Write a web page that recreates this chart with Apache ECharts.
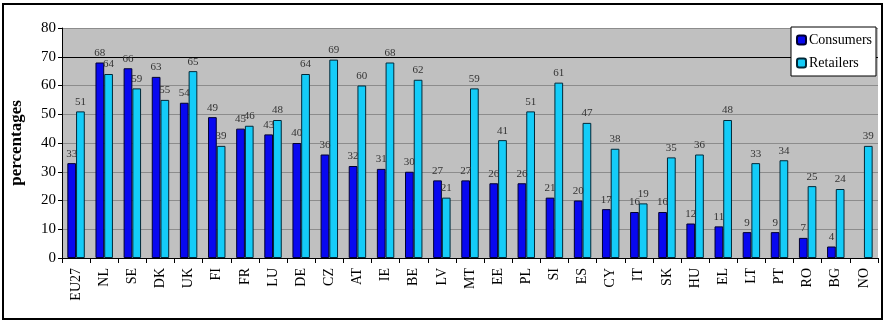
<!DOCTYPE html>
<html>
<head>
<meta charset="utf-8">
<script src="https://cdn.jsdelivr.net/npm/echarts@6/dist/echarts.min.js"></script>
<style>
  html, body { margin: 0; padding: 0; background: #fff; }
  #frame { position: absolute; left: 2px; top: 3px; width: 877px; height: 313px; border: 2px solid #000; }
  #chart { position: absolute; left: 0; top: 0; width: 884px; height: 324px; }
</style>
</head>
<body>
<div id="frame"></div>
<div id="chart"></div>
<script>
const countries = ['EU27', 'NL', 'SE', 'DK', 'UK', 'FI', 'FR', 'LU', 'DE', 'CZ', 'AT', 'IE', 'BE', 'LV', 'MT',
  'EE', 'PL', 'SI', 'ES', 'CY', 'IT', 'SK', 'HU', 'EL', 'LT', 'PT', 'RO', 'BG', 'NO']
const consumers = [33, 68, 66, 63, 54, 49, 45, 43, 40, 36, 32, 31, 30, 27, 27,
  26, 26, 21, 20, 17, 16, 16, 12, 11, 9, 9, 7, 4, null]
const retailers = [51, 64, 59, 55, 65, 39, 46, 48, 64, 69, 60, 68, 62, 21, 59,
  41, 51, 61, 47, 38, 19, 35, 36, 48, 33, 34, 25, 24, 39]
const yTicks = [0, 10, 20, 30, 40, 50, 60, 70, 80]

const serif = '"Liberation Serif", "Times New Roman", serif'

const chart = echarts.init(document.getElementById('chart'))

const labelStyle = {
  show: true,
  position: 'top',
  distance: 4,
  fontFamily: serif,
  fontSize: 11,
  color: '#333'
}

// gridline at 70 is drawn black in the original
const splitColors = yTicks.map(v => (v === 70 ? '#000' : '#8c8c8c'))

chart.setOption({
  animation: false,
  textStyle: { fontFamily: serif },
  grid: {
    left: 60,
    right: 6,
    top: 28,
    bottom: 66,
    show: true,
    backgroundColor: '#c0c0c0',
    borderWidth: 0
  },
  legend: {
    right: 8,
    top: 27,
    orient: 'vertical',
    itemWidth: 9,
    itemHeight: 9,
    itemGap: 9,
    padding: [6, 4, 6, 5],
    backgroundColor: '#fff',
    borderColor: '#000',
    borderWidth: 1,
    textStyle: { fontFamily: serif, fontSize: 14, color: '#000', padding: [0, 0, 0, -2] },
    data: ['Consumers', 'Retailers']
  },
  xAxis: {
    type: 'category',
    data: countries,
    axisLine: { lineStyle: { color: '#000', width: 1 } },
    axisTick: { show: true, length: 5, lineStyle: { color: '#000' } },
    axisLabel: {
      rotate: 90,
      fontFamily: serif,
      fontSize: 14,
      color: '#000',
      margin: 10
    }
  },
  yAxis: {
    type: 'value',
    min: 0,
    max: 80,
    interval: 10,
    name: 'percentages',
    nameLocation: 'middle',
    nameGap: 37,
    nameRotate: 90,
    nameTextStyle: { fontFamily: serif, fontSize: 17, fontWeight: 'bold', color: '#000' },
    axisLine: { show: true, lineStyle: { color: '#000' } },
    axisTick: { show: true, length: 4, lineStyle: { color: '#000' } },
    axisLabel: { fontFamily: serif, fontSize: 15, color: '#000', margin: 6 },
    splitLine: { show: true, lineStyle: { color: splitColors, width: 1 } }
  },
  series: [
    {
      name: 'Consumers',
      type: 'bar',
      data: consumers,
      barWidth: '31%',
      barGap: '0%',
      itemStyle: { color: '#0808f0', borderColor: '#000030', borderWidth: 1 },
      label: labelStyle
    },
    {
      name: 'Retailers',
      type: 'bar',
      data: retailers,
      barWidth: '31%',
      itemStyle: { color: '#14ccf8', borderColor: '#002838', borderWidth: 1 },
      label: labelStyle
    }
  ]
})
</script>
</body>
</html>
